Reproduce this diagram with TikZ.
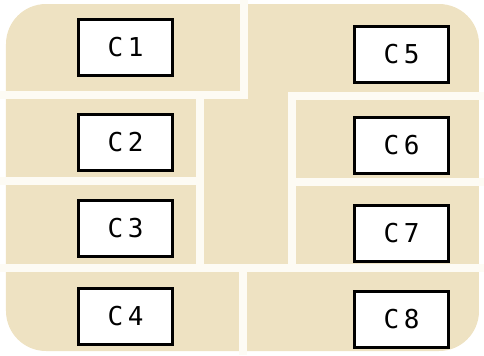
\documentclass[tikz,border=0pt]{standalone}
\usepackage{fontspec}
\usepackage{tikz}
\usetikzlibrary{positioning}
\newfontfamily\chipfont[LetterSpace=18]{DejaVu Sans Mono}
\definecolor{chipbeige}{RGB}{238,226,194}
\definecolor{gapwhite}{RGB}{253,251,244}

\begin{document}
\begin{tikzpicture}[
  x=0.5pt, y=-0.5pt,
  pad/.style={draw=black, line width=1.5pt, fill=white, minimum width=47pt, minimum height=28pt, inner sep=0pt, font=\chipfont\fontsize{13}{14}\selectfont},
  gap/.style={draw=gapwhite, line width=4pt}
]
\useasboundingbox (0,0) rectangle (484,355);

% chip body
\fill[chipbeige, rounded corners=20pt] (6,4) rectangle (479,351);

% separating gaps
\coordinate (t0) at (0,95);
\coordinate (t1) at (244,95);
\coordinate (t2) at (244,0);
\coordinate (r0) at (292,96);
\coordinate (r1) at (484,96);
\coordinate (m0) at (200,95);
\coordinate (m1) at (200,268);
\coordinate (n1) at (292,268);
\coordinate (h0) at (0,181);
\coordinate (h1) at (200,181);
\coordinate (k0) at (292,182);
\coordinate (k1) at (484,182);
\coordinate (b0) at (0,268);
\coordinate (b1) at (484,268);
\coordinate (v0) at (243,268);
\coordinate (v1) at (243,355);

\draw[gap] (t0) -- (t1) -- (t2);
\draw[gap] (r1) -- (r0) -- (n1);
\draw[gap] (m0) -- (m1);
\draw[gap] (h0) -- (h1);
\draw[gap] (k0) -- (k1);
\draw[gap] (b0) -- (b1);
\draw[gap] (v0) -- (v1);

% contact pads
\node[pad] (c1) at (125.5,47.5) {C1};
\node[pad] (c2) at (125.5,142) {C2};
\node[pad] (c3) at (125.5,228) {C3};
\node[pad] (c4) at (125.5,316) {C4};
\node[pad] (c5) at (401.5,54) {C5};
\node[pad] (c6) at (401.5,145) {C6};
\node[pad] (c7) at (401.5,233) {C7};
\node[pad] (c8) at (401.5,319.5) {C8};
\end{tikzpicture}
\end{document}
